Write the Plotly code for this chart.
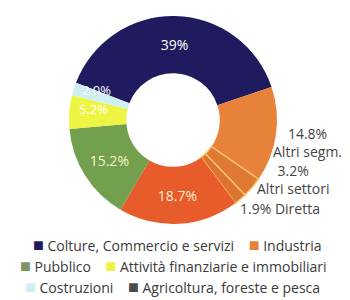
import plotly.graph_objects as go

# Slice data (clockwise from the navy slice)
slice_labels = ["Colture, Commercio e servizi", "Altri segm.", "Altri settori", "Diretta",
                "Industria", "Pubblico", "Attività finanziarie e immobiliari", "Costruzioni"]
slice_values = [39.0, 14.8, 3.2, 1.9, 18.7, 15.2, 5.2, 2.0]
slice_text = ["39%", "", "", "", "18.7%", "15.2%", "", ""]
slice_colors = ["#1F1B5E", "#E8823A", "#DF7833", "#DD7331", "#E85C2B", "#72A04F", "#EDF542", "#CFEFF2"]
text_colors = ["#FFFFFF", "#444444", "#444444", "#444444", "#F6ECCF", "#F2F6C6", "#FFFFFF", "#FFFFFF"]

# Outside labels for the small Industria segments
outside_text = ["14.8%<br>Altri segm.", "3.2%<br>Altri settori", "1.9% Diretta"]
outside_pos = [(0.856, 0.553), (0.814, 0.43), (0.777, 0.333)]

# Labels of the thin left slices
small_text = ["5.2%", "2.0%"]
small_pos = [(0.243, 0.663), (0.254, 0.727)]

# Legend data
legend_names = ["Colture, Commercio e servizi", "Industria", "Pubblico",
                "Attività finanziarie e immobiliari", "Costruzioni", "Agricoltura, foreste e pesca"]
legend_colors = ["#1F1B5E", "#E8823A", "#7E9466", "#EDF542", "#CFEFF2", "#4A4A4A"]

line_colors = ["rgba(0,0,0,0)", "rgba(0,0,0,0)", "#F5C468", "#F5C468",
               "rgba(0,0,0,0)", "rgba(0,0,0,0)", "rgba(0,0,0,0)", "rgba(0,0,0,0)"]
line_widths = [0, 0, 1.5, 1.5, 0, 0, 0, 0]

fig = go.Figure()
fig.add_trace(go.Pie(
    labels=slice_labels, values=slice_values, text=slice_text,
    textinfo="text", textposition="inside", sort=False, direction="clockwise",
    rotation=-69, hole=0.45,
    marker=dict(colors=slice_colors, line=dict(color=line_colors, width=line_widths)),
    insidetextfont=dict(color=text_colors, size=14, family="Open Sans"),
    insidetextorientation="horizontal",
    domain=dict(x=[0.174, 0.769], y=[0.28, 0.973]),
    showlegend=False, automargin=False, hoverinfo="label+percent",
))

for txt, (x, y) in zip(outside_text, outside_pos):
    fig.add_annotation(x=x, y=y, xref="paper", yref="paper", text=txt, showarrow=False,
                       font=dict(size=14, color="#444444", family="Open Sans"),
                       xanchor="center", yanchor="middle", align="center")

for txt, (x, y) in zip(small_text, small_pos):
    fig.add_annotation(x=x, y=y, xref="paper", yref="paper", text=txt, showarrow=False,
                       font=dict(size=13, color="#FFFFFF", family="Open Sans"),
                       xanchor="center", yanchor="middle")

rows = [(0, 1, 0.483, 0.215), (2, 3, 0.474, 0.142), (4, 5, 0.471, 0.072)]
for a, b, x, y in rows:
    txt = (f"<span style=\"color:{legend_colors[a]};font-size:18px\">■</span> {legend_names[a]}"
           f"    <span style=\"color:{legend_colors[b]};font-size:18px\">■</span> {legend_names[b]}")
    fig.add_annotation(x=x, y=y, xref="paper", yref="paper", text=txt, showarrow=False,
                       font=dict(size=14, color="#3A3A3A", family="Open Sans"),
                       xanchor="center", yanchor="middle")

fig.update_layout(width=350, height=300, margin=dict(l=0, r=0, t=0, b=0),
                  paper_bgcolor="white", plot_bgcolor="white")
fig.write_html("out.html")
